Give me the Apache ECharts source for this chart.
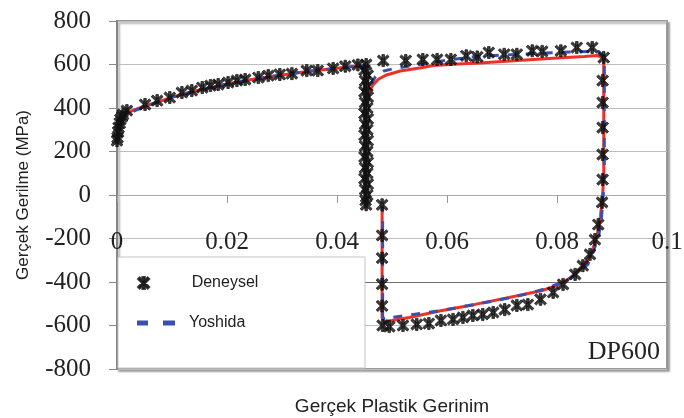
<!DOCTYPE html>
<html><head><meta charset="utf-8">
<script src="https://cdn.jsdelivr.net/npm/echarts@6/dist/echarts.min.js"></script>
<style>html,body{margin:0;padding:0;background:#fff}#c{width:684px;height:418px}</style>
</head><body><div id="c"></div>
<script>
// ---- tick labels ----
const xTickLabels = ['0', '0.02', '0.04', '0.06', '0.08', '0.1'];
const yTickLabels = ['-800', '-600', '-400', '-200', '0', '200', '400', '600', '800'];

// ---- Deneysel (experimental) points [strain, stress] ----
const denTension = [[0,250],[0.0001,264],[0.0002,290],[0.0003,310],[0.0005,330],[0.0006,347],[0.0009,360],[0.0011,370],[0.0018,388],[0.0051,416],[0.0073,434],[0.0096,448],[0.0118,471],[0.0136,480],[0.0155,494],[0.017,503],[0.0184,508],[0.0202,517],[0.0218,526],[0.0233,531],[0.0257,540],[0.0275,549],[0.0296,554],[0.0318,558],[0.0345,572],[0.0365,572],[0.0393,582],[0.0415,592],[0.0438,598]];
const denUnload = [[0.0453,600],[0.0450,575],[0.0456,550],[0.0451,525],[0.0455,500],[0.0450,475],[0.0456,450],[0.0451,425],[0.0455,400],[0.0450,375],[0.0456,350],[0.0451,325],[0.0455,300],[0.0450,275],[0.0456,250],[0.0451,225],[0.0455,200],[0.0450,175],[0.0456,150],[0.0451,125],[0.0455,100],[0.0450,75],[0.0456,50],[0.0451,25],[0.0455,0],[0.0452,-25],[0.0453,-45]];
const denReload = [[0.0484,618],[0.0525,618],[0.0556,623],[0.0582,623],[0.0607,623],[0.0635,640],[0.0655,635],[0.0676,655],[0.0704,647],[0.0727,647],[0.0755,663],[0.0773,660],[0.0807,663],[0.0836,678],[0.0864,678],[0.0885,632]];
const denCompress = [[0.0883,526],[0.0883,425],[0.0883,310],[0.0883,186],[0.0883,71],[0.0882,-34],[0.0875,-136],[0.0869,-205],[0.0860,-273],[0.0847,-325],[0.0833,-365],[0.0811,-411],[0.0793,-448],[0.0770,-480],[0.0747,-504],[0.0727,-508],[0.0705,-527],[0.0684,-540],[0.0665,-549],[0.0647,-554],[0.0629,-563],[0.0611,-572],[0.0589,-577],[0.0567,-591],[0.0545,-595],[0.0520,-600],[0.0495,-605],[0.0483,-600],[0.0482,-510],[0.0482,-410],[0.0482,-290],[0.0482,-186],[0.0482,-45]];

// ---- Yoshida model (blue dashed) ----
const yosA = [[0,250],[0.0003,298],[0.0007,332],[0.0012,355],[0.002,372],[0.0036,392],[0.005,406],[0.0075,428],[0.01,450],[0.0125,467],[0.015,483],[0.0175,497],[0.02,510],[0.0225,522],[0.025,533],[0.0275,543],[0.03,552],[0.0325,561],[0.035,569],[0.0375,576],[0.04,583],[0.0425,590],[0.0448,597],[0.0452,560],[0.0452,0],[0.0453,-55]];
const yosB = [[0.0453,430],[0.046,500],[0.047,545],[0.0485,570],[0.0505,582],[0.055,600],[0.06,620],[0.065,636],[0.0716,645],[0.0776,653],[0.0858,660],[0.0876,660],[0.0886,635],[0.0886,300],[0.0886,100],[0.0884,0],[0.0881,-100],[0.0876,-186],[0.0866,-260],[0.0856,-320],[0.0818,-393],[0.078,-430],[0.0742,-457],[0.069,-485],[0.064,-508],[0.059,-531],[0.0536,-550],[0.05,-563],[0.0486,-572],[0.0483,-560],[0.0483,-300],[0.0483,-55]];

// ---- third model (red solid) ----
const redA = [[0,250],[0.0003,300],[0.0007,335],[0.0012,360],[0.002,378],[0.003,390],[0.005,408],[0.0075,428],[0.01,450],[0.0125,467],[0.015,483],[0.0175,497],[0.02,510],[0.0225,522],[0.025,533],[0.0275,543],[0.03,552],[0.0325,561],[0.035,569],[0.0375,576],[0.04,583],[0.0425,590],[0.0448,596],[0.0451,560],[0.0451,0],[0.0452,-62]];
const redB = [[0.0453,420],[0.0458,470],[0.0465,505],[0.0475,532],[0.049,552],[0.0515,570],[0.055,584],[0.0575,595],[0.062,602],[0.066,607],[0.07,614],[0.075,622],[0.08,630],[0.085,637],[0.0873,641],[0.0885,630],[0.0885,300],[0.0885,100],[0.0883,0],[0.0879,-100],[0.0873,-186],[0.0862,-273],[0.0845,-334],[0.0825,-379],[0.08,-416],[0.0773,-439],[0.0713,-471],[0.0651,-503],[0.0591,-531],[0.0531,-563],[0.05,-577],[0.0486,-580],[0.0482,-565],[0.0482,-300],[0.0482,-57]];

const starPath = 'path://M4,0 L6,0 L6,10 L4,10 Z M1.7,0.3 L9.7,8.3 L8.3,9.7 L0.3,1.7 Z M8.3,0.3 L9.7,1.7 L1.7,9.7 L0.3,8.3 Z';
const dashPath = 'path://M0,0 L11,0 L11,5 L0,5 Z M26,0 L38,0 L38,5 L26,5 Z';
const BLUE = '#3a4fb0', RED = '#ee3124';
const serif = 'Liberation Serif, Times New Roman, serif';
const sans = 'Liberation Sans, Arial, sans-serif';

const chart = echarts.init(document.getElementById('c'));
chart.setOption({
  animation: false,
  backgroundColor: '#fff',
  grid: {left: 117, right: 17, top: 21, bottom: 49, containLabel: false, outerBoundsMode: 'none',
    show: true, backgroundColor: '#fff',
    borderColor: '#9a9a9a', borderWidth: 2, shadowColor: 'rgba(0,0,0,0.3)', shadowBlur: 2, shadowOffsetX: 2, shadowOffsetY: 2},
  xAxis: {
    type: 'value', min: 0, max: 0.1, interval: 0.02,
    axisLine: {onZero: true, lineStyle: {color: '#aaaaaa', width: 1}},
    axisTick: {show: true, inside: false, length: 8, lineStyle: {color: '#999'}},
    axisLabel: {margin: -139, fontFamily: serif, fontSize: 25, color: '#222',
      formatter: (v, i) => xTickLabels[i]},
    splitLine: {show: false},
    name: 'Gerçek Plastik Gerinim', nameLocation: 'middle', nameGap: 28,
    nameTextStyle: {fontFamily: sans, fontSize: 19, color: '#222'}
  },
  yAxis: {
    type: 'value', min: -800, max: 800, interval: 200,
    axisLine: {show: true, onZero: false, lineStyle: {color: '#858585', width: 2}},
    axisTick: {show: true, inside: false, length: 8, lineStyle: {color: '#888'}},
    axisLabel: {margin: 26, fontFamily: serif, fontSize: 25, color: '#222',
      formatter: (v, i) => yTickLabels[i]},
    splitLine: {show: true, lineStyle: {width: 1, color: ['#bdbdbd','#bdbdbd','#6e6e6e','#bdbdbd','#bdbdbd','#bdbdbd','#bdbdbd','#bdbdbd','#bdbdbd']}},
    name: 'Gerçek Gerilme (MPa)', nameLocation: 'middle', nameGap: 85,
    nameTextStyle: {fontFamily: sans, fontSize: 17, color: '#222'}
  },
  legend: [
    {data: [{name: 'Deneysel', icon: starPath, itemStyle: {color: '#111'}}], left: 132, top: 270,
      itemWidth: 12, itemHeight: 12, textStyle: {fontFamily: sans, fontSize: 16, color: '#222', padding: [0,0,0,37]}, z: 10},
    {data: [{name: 'Yoshida', icon: dashPath, itemStyle: {color: BLUE}}], left: 132, top: 310,
      itemWidth: 38, itemHeight: 5, textStyle: {fontFamily: sans, fontSize: 16, color: '#222', padding: [0,0,0,9]}, z: 10}
  ],
  graphic: [
    {type: 'rect', shape: {x: 118, y: 257, width: 247, height: 111}, style: {fill: '#fff', stroke: '#c4c4c4', lineWidth: 1}, z: 8},
    {type: 'text', right: 24, top: 339, style: {text: 'DP600', font: '26px ' + serif, fill: '#222'}, z: 8}
  ],
  series: [
    {name: 'red1', type: 'line', data: redA, showSymbol: false, lineStyle: {color: RED, width: 3}, itemStyle: {color: RED}, z: 2, silent: true},
    {name: 'red2', type: 'line', data: redB, showSymbol: false, lineStyle: {color: RED, width: 3}, itemStyle: {color: RED}, z: 2, silent: true},
    {name: 'Yoshida', type: 'line', data: yosA, showSymbol: false, lineStyle: {color: BLUE, width: 3, type: [9, 9]}, itemStyle: {color: BLUE}, z: 3},
    {name: 'Yoshida', type: 'line', data: yosB, showSymbol: false, lineStyle: {color: BLUE, width: 3, type: [9, 9]}, itemStyle: {color: BLUE}, z: 3},
    {name: 'Deneysel', type: 'scatter', data: [].concat(denTension, denUnload, denReload, denCompress),
      symbol: starPath, symbolSize: 12, itemStyle: {color: '#111', borderColor: '#111', borderWidth: 0.9}, z: 4}
  ]
});
</script></body></html>
